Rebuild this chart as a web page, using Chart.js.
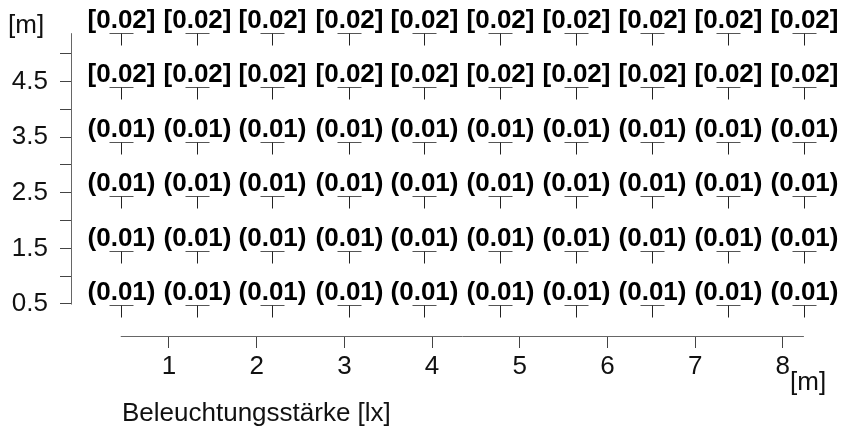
<!DOCTYPE html>
<html>
<head>
<meta charset="utf-8">
<script src="https://cdn.jsdelivr.net/npm/chart.js@4.4.1/dist/chart.umd.min.js"></script>
<style>
    body { margin: 0; background: #fff; }
    #grid { display: block; }
</style>
</head>
<body>
<canvas id="grid" width="844" height="432"></canvas>
<script>
// Positions des points de mesure (en m)
const colPositions = [0.45, 1.32, 2.18, 3.05, 3.91, 4.78, 5.64, 6.51, 7.37, 8.24];
const rowPositions = [0.49, 1.46, 2.44, 3.42, 4.40, 5.37];

// Valeurs mesurees par rangee (du bas vers le haut)
const row1 = [0.01, 0.01, 0.01, 0.01, 0.01, 0.01, 0.01, 0.01, 0.01, 0.01];
const row2 = [0.01, 0.01, 0.01, 0.01, 0.01, 0.01, 0.01, 0.01, 0.01, 0.01];
const row3 = [0.01, 0.01, 0.01, 0.01, 0.01, 0.01, 0.01, 0.01, 0.01, 0.01];
const row4 = [0.01, 0.01, 0.01, 0.01, 0.01, 0.01, 0.01, 0.01, 0.01, 0.01];
const row5 = [0.02, 0.02, 0.02, 0.02, 0.02, 0.02, 0.02, 0.02, 0.02, 0.02];
const row6 = [0.02, 0.02, 0.02, 0.02, 0.02, 0.02, 0.02, 0.02, 0.02, 0.02];
const rowValues = [row1, row2, row3, row4, row5, row6];
const rowBrackets = ['()', '()', '()', '()', '[]', '[]'];

// Graduations
const xTicks = [1, 2, 3, 4, 5, 6, 7, 8];
const yTicks = [0.5, 1, 1.5, 2, 2.5, 3, 3.5, 4, 4.5, 5];
const yTickLabels = ['0.5', '', '1.5', '', '2.5', '', '3.5', '', '4.5', ''];

const FONT = '"Liberation Sans", Arial, Helvetica, sans-serif';

// Dessin des axes, des marqueurs et des etiquettes
const measurePlugin = {
    id: 'measureMarks',
    afterDatasetsDraw(chart) {
        const ctx = chart.ctx;
        const xs = chart.scales.x;
        const ys = chart.scales.y;
        const area = chart.chartArea;

        ctx.save();
        ctx.lineWidth = 1;
        ctx.strokeStyle = '#666';
        ctx.beginPath();
        // axe x : du premier au dernier point
        const bottom = Math.round(area.bottom) + 0.5;
        ctx.moveTo(xs.getPixelForValue(colPositions[0]), bottom);
        ctx.lineTo(xs.getPixelForValue(colPositions[colPositions.length - 1]), bottom);
        // axe y
        const left = Math.round(area.left) - 0.5;
        ctx.moveTo(left, ys.getPixelForValue(rowPositions[0]));
        ctx.lineTo(left, ys.getPixelForValue(rowPositions[rowPositions.length - 1]));
        ctx.stroke();

        chart.data.datasets.forEach((ds, r) => {
            const meta = chart.getDatasetMeta(r);
            meta.data.forEach((pt, c) => {
                const x = Math.round(pt.x) + 0.5;
                const y = Math.round(pt.y) + 0.5;
                // marqueur en T
                ctx.strokeStyle = '#555';
                ctx.beginPath();
                ctx.moveTo(x - 12, y);
                ctx.lineTo(x + 12, y);
                ctx.stroke();
                ctx.strokeStyle = '#222';
                ctx.beginPath();
                ctx.moveTo(x, y);
                ctx.lineTo(x, y + 12);
                ctx.stroke();
                // etiquette
                ctx.fillStyle = '#000';
                ctx.font = 'bold 26px ' + FONT;
                ctx.textAlign = 'center';
                ctx.textBaseline = 'alphabetic';
                const b = ds.brackets;
                ctx.fillText(b[0] + ds.values[c].toFixed(2) + b[1], x, y - 6);
            });
        });

        // titres des axes
        ctx.fillStyle = '#111';
        ctx.textAlign = 'left';
        ctx.font = '26px ' + FONT;
        ctx.fillText('[m]', 8, 33);
        ctx.fillText('[m]', 790, 390);
        ctx.fillText('Beleuchtungsstärke [lx]', 122, 421);
        ctx.restore();
    }
};

document.addEventListener('DOMContentLoaded', function() {
    const datasets = rowValues.map((vals, r) => ({
        data: colPositions.map(x => ({ x: x, y: rowPositions[r] })),
        values: vals,
        brackets: rowBrackets[r],
        pointRadius: 0,
        showLine: false
    }));

    new Chart(document.getElementById('grid').getContext('2d'), {
        type: 'scatter',
        data: { datasets: datasets },
        plugins: [measurePlugin],
        options: {
            responsive: false,
            animation: false,
            layout: { padding: { left: 0, top: 3, right: 28, bottom: 0 } },
            plugins: {
                legend: { display: false },
                tooltip: { enabled: false }
            },
            scales: {
                x: {
                    type: 'linear',
                    min: -0.106,
                    max: 8.378,
                    afterBuildTicks: scale => { scale.ticks = xTicks.map(v => ({ value: v })); },
                    afterFit: scale => {
                        scale.height = 96;
                        scale.paddingLeft = 0;
                        scale.paddingRight = 0;
                    },
                    grid: { drawOnChartArea: false, drawTicks: true, tickLength: 12, color: '#444' },
                    border: { display: false },
                    ticks: {
                        padding: 3,
                        color: '#111',
                        font: { family: FONT, size: 26 },
                        maxRotation: 0,
                        callback: v => String(v)
                    }
                },
                y: {
                    type: 'linear',
                    min: -0.076,
                    max: 5.913,
                    afterBuildTicks: scale => { scale.ticks = yTicks.map(v => ({ value: v })); },
                    afterFit: scale => {
                        scale.width = 72;
                        scale.paddingTop = 0;
                        scale.paddingBottom = 0;
                    },
                    grid: { drawOnChartArea: false, drawTicks: true, tickLength: 12, color: '#444' },
                    border: { display: false },
                    ticks: {
                        padding: 12,
                        color: '#111',
                        font: { family: FONT, size: 26 },
                        callback: (v, i) => yTickLabels[i]
                    }
                }
            }
        }
    });
});
</script>
</body>
</html>
